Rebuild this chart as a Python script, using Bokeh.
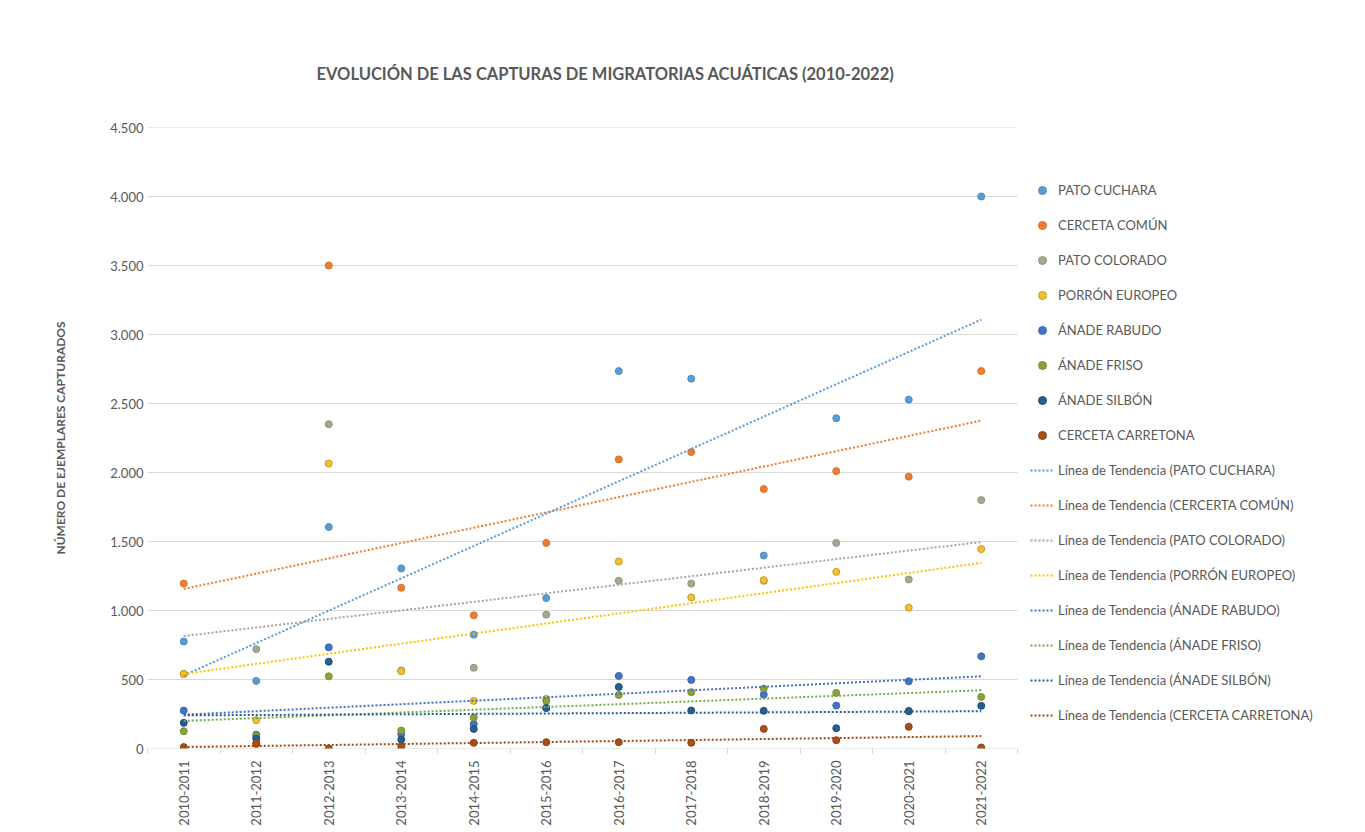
import numpy as np
from bokeh.plotting import figure
from bokeh.models import FixedTicker, Range1d, Legend, LegendItem
from bokeh.embed import file_html
from bokeh.resources import INLINE

# ---------------- data ----------------
seasons = ["2010-2011", "2011-2012", "2012-2013", "2013-2014", "2014-2015", "2015-2016",
           "2016-2017", "2017-2018", "2018-2019", "2019-2020", "2020-2021", "2021-2022"]

series_names = ["PATO CUCHARA", "CERCETA COMÚN", "PATO COLORADO", "PORRÓN EUROPEO",
                "ÁNADE RABUDO", "ÁNADE FRISO", "ÁNADE SILBÓN", "CERCETA CARRETONA"]

pato_cuchara = [775, 490, 1605, 1305, 825, 1090, 2735, 2680, 1398, 2393, 2528, 4000]
cerceta_comun = [1195, 30, 3500, 1165, 965, 1490, 2095, 2148, 1880, 2010, 1970, 2735]
pato_colorado = [540, 720, 2350, 565, 585, 970, 1215, 1195, 1215, 1490, 1225, 1800]
porron_europeo = [540, 205, 2065, 560, 345, 360, 1355, 1095, 1220, 1280, 1020, 1445]
anade_rabudo = [275, 100, 733, 105, 178, 294, 526, 497, 391, 311, 487, 668]
anade_friso = [125, 90, 523, 130, 224, 345, 388, 408, 434, 403, 273, 374]
anade_silbon = [186, 72, 629, 65, 142, 294, 446, 275, 273, 147, 270, 309]
cerceta_carretona = [10, 40, 0, 15, 41, 46, 46, 41, 142, 60, 157, 7]

trend_labels = ["Línea de Tendencia (PATO CUCHARA)", "Línea de Tendencia (CERCERTA COMÚN)",
                "Línea de Tendencia (PATO COLORADO)", "Línea de Tendencia (PORRÓN EUROPEO)",
                "Línea de Tendencia (ÁNADE RABUDO)", "Línea de Tendencia (ÁNADE FRISO)",
                "Línea de Tendencia (ÁNADE SILBÓN)", "Línea de Tendencia (CERCETA CARRETONA)"]
trend_start = [530, 1156, 815, 540, 245, 200, 240, 11]
trend_end = [3108, 2376, 1496, 1345, 523, 422, 270, 90]

yticks = [0, 500, 1000, 1500, 2000, 2500, 3000, 3500, 4000, 4500]
ytick_labels = ["0", "500", "1.000", "1.500", "2.000", "2.500", "3.000", "3.500", "4.000", "4.500"]

title_text = "EVOLUCIÓN DE LAS CAPTURAS DE MIGRATORIAS ACUÁTICAS (2010-2022)"
y_label = "NÚMERO DE EJEMPLARES CAPTURADOS"

# ---------------- styles / layout ----------------
FONT = "Lato"
TXT = "#595959"
GRID = "#D9D9D9"
fill_colors = ["#5B9BD5", "#ED7D31", "#A3A88E", "#F2C12E", "#4472C4", "#8AA23C", "#255E91", "#A8501C"]
edge_colors = ["#4F8CC4", "#D8702A", "#8F957A", "#C7962A", "#3C66B0", "#76902F", "#1F507D", "#8C4210"]
trend_colors = ["#5B9BD5", "#ED7D31", "#A5A5A5", "#FFC000", "#4472C4", "#70AD47", "#255E91", "#9E480E"]

all_series = [pato_cuchara, cerceta_comun, pato_colorado, porron_europeo,
              anade_rabudo, anade_friso, anade_silbon, cerceta_carretona]

n = len(seasons)
xc = [i + 0.5 for i in range(n)]

W, H = 1357, 828
BL, BR, BT, BB = 147, 10, 127, 79
data_w = 870                       # pixel width of the plotting area holding the categories
frame_w = W - BL - BR
x_end = n * frame_w / data_w       # frame extends to the right to host the legend

p = figure(width=W, height=H, x_range=Range1d(0, x_end), y_range=Range1d(yticks[0], yticks[-1]),
           output_backend="svg", toolbar_location=None,
           min_border_left=BL, min_border_right=BR, min_border_top=BT, min_border_bottom=BB)
p.outline_line_color = None
p.background_fill_color = "white"
p.border_fill_color = "white"

# title
p.title.text = title_text
p.title.align = "left"
p.title.offset = 169
p.title.standoff = 88
p.title.text_font = FONT
p.title.text_font_size = "16.5px"
p.title.text_font_style = "bold"
p.title.text_color = TXT

# gridlines (only over the category area) and x axis baseline
p.xgrid.visible = False
p.ygrid.visible = False
p.segment(x0=[0] * len(yticks), y0=yticks, x1=[n] * len(yticks), y1=yticks,
          line_color=GRID, line_width=1)

# x axis
p.xaxis.ticker = FixedTicker(ticks=xc, minor_ticks=list(range(n + 1)))
p.xaxis.major_label_overrides = {x: s for x, s in zip(xc, seasons)}
p.xaxis.major_label_orientation = np.pi / 2
p.xaxis.major_tick_line_color = None
p.xaxis.major_tick_out = 0
p.xaxis.major_tick_in = 0
p.xaxis.minor_tick_line_color = GRID
p.xaxis.minor_tick_out = 5
p.xaxis.minor_tick_in = 0
p.xaxis.axis_line_color = None
p.xaxis.major_label_standoff = 7
p.xaxis.major_label_text_font = FONT
p.xaxis.major_label_text_font_size = "13px"
p.xaxis.major_label_text_color = TXT

# y axis
p.yaxis.ticker = FixedTicker(ticks=yticks)
p.yaxis.major_label_overrides = {t: s for t, s in zip(yticks, ytick_labels)}
p.yaxis.axis_line_color = None
p.yaxis.major_tick_line_color = None
p.yaxis.minor_tick_line_color = None
p.yaxis.major_tick_out = 0
p.yaxis.major_tick_in = 0
p.yaxis.major_label_standoff = 4
p.yaxis.major_label_text_font = FONT
p.yaxis.major_label_text_font_size = "13px"
p.yaxis.major_label_text_color = TXT
p.yaxis.axis_label = y_label
p.yaxis.axis_label_text_font = FONT
p.yaxis.axis_label_text_font_size = "12px"
p.yaxis.axis_label_text_font_style = "bold"
p.yaxis.axis_label_text_color = TXT
p.yaxis.axis_label_standoff = 39

scatter_items = []
for name, vals, fc, ec in zip(series_names, all_series, fill_colors, edge_colors):
    r = p.scatter(xc, vals, size=7, marker="circle", fill_color=fc, line_color=ec, line_width=1)
    scatter_items.append(LegendItem(label=name, renderers=[r]))

trend_items = []
for lab, s, e, c in zip(trend_labels, trend_start, trend_end, trend_colors):
    r = p.line([xc[0], xc[-1]], [s, e], line_color=c, line_width=2, line_dash="2 2")
    trend_items.append(LegendItem(label=lab, renderers=[r]))

legend = Legend(items=scatter_items + trend_items, location=(883, 23))
legend.padding = 0
legend.margin = 0
legend.spacing = 15
legend.glyph_height = 20
legend.glyph_width = 24
legend.label_height = 20
legend.label_standoff = 4
legend.label_text_font = FONT
legend.label_text_font_size = "13px"
legend.label_text_color = TXT
legend.border_line_color = None
legend.background_fill_alpha = 0
p.add_layout(legend)

open("out.html", "w").write(file_html(p, INLINE))
